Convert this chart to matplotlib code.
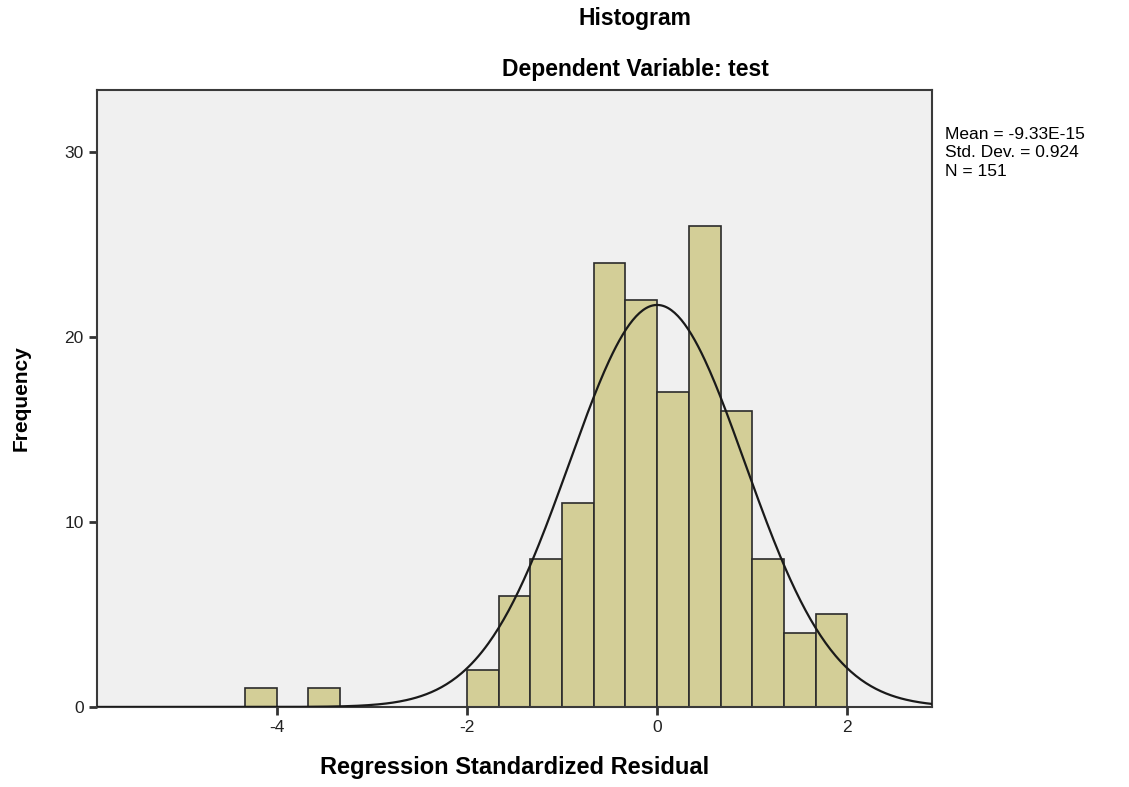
import numpy as np
import matplotlib.pyplot as plt

plt.rcParams['font.family'] = ['Liberation Sans', 'DejaVu Sans']
plt.rcParams['axes.unicode_minus'] = False

# histogram bins (left edges) and counts, width 1/3
bin_left = [-13/3, -11/3, -2, -5/3, -4/3, -1, -2/3, -1/3, 0, 1/3, 2/3, 1, 4/3, 5/3]
counts = [1, 1, 2, 6, 8, 11, 24, 22, 17, 26, 16, 8, 4, 5]
bin_width = 1/3

mean = -9.33e-15
sd = 0.924
n = 151

fig = plt.figure(figsize=(11.29, 7.87), dpi=100)
ax = fig.add_axes([0.0859, 0.1017, 0.7396, 0.7839])
ax.set_facecolor('#f0f0f0')

ax.bar(bin_left, counts, width=bin_width, align='edge',
       color='#d3ce97', edgecolor='#2b2b2b', linewidth=1.2, zorder=2)

xs = np.linspace(-5.9, 2.9, 500)
ys = n * bin_width * np.exp(-0.5 * ((xs - mean) / sd) ** 2) / (sd * np.sqrt(2 * np.pi))
ax.plot(xs, ys, color='#1a1a1a', linewidth=1.6, zorder=3)

ax.set_xlim(-5.89, 2.89)
ax.set_ylim(0, 33.35)
ax.set_xticks([-4, -2, 0, 2])
ax.set_yticks([0, 10, 20, 30])
ax.tick_params(direction='out', length=6, width=2, labelsize=12.5, colors='#333333',
               labelcolor='#222222')
for s in ax.spines.values():
    s.set_linewidth(1.5)
    s.set_color('#3a3a3a')

ax.set_xlabel('Regression Standardized Residual', fontsize=17, fontweight='bold', labelpad=15)
ax.set_ylabel('Frequency', fontsize=15, fontweight='bold', labelpad=24)

fig.text(0.5625, 0.976, 'Histogram', ha='center', va='center', fontsize=16.5, fontweight='bold')
fig.text(0.5625, 0.912, 'Dependent Variable: test', ha='center', va='center', fontsize=16.5, fontweight='bold')

fig.text(0.837, 0.839, 'Mean = -9.33E-15\nStd. Dev. = 0.924\nN = 151',
         ha='left', va='top', fontsize=12.5, linespacing=1.3)

fig.savefig('out.png', dpi=100)
